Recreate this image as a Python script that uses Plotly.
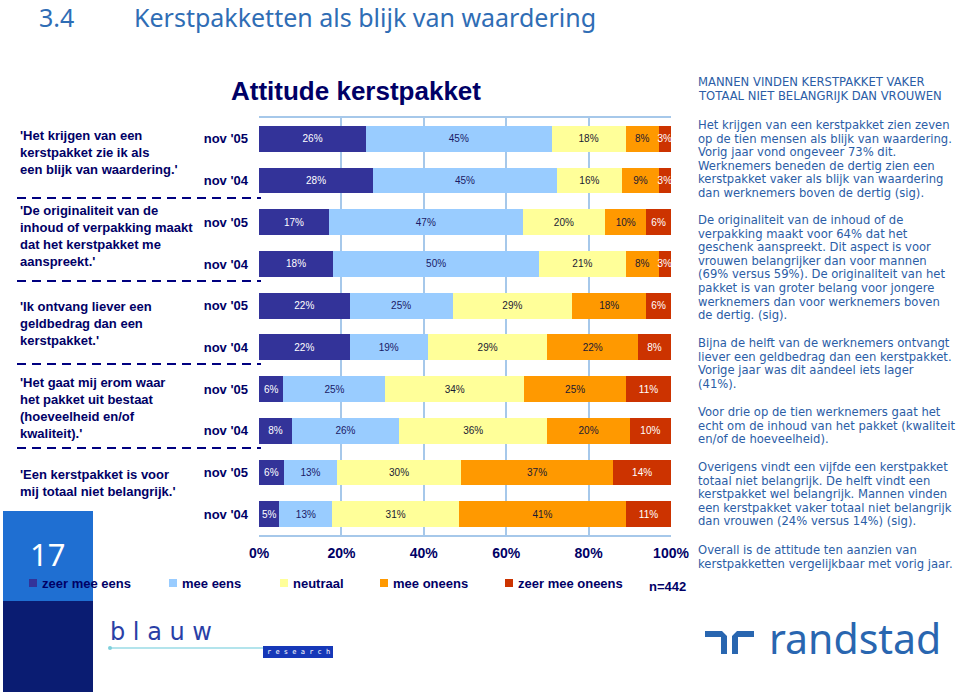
import plotly.graph_objects as go

# ---------------- data ----------------
statements = [
    "'Het krijgen van een<br>kerstpakket zie ik als<br>een blijk van waardering.'",
    "'De originaliteit van de<br>inhoud of verpakking maakt<br>dat het kerstpakket me<br>aanspreekt.'",
    "'Ik ontvang liever een<br>geldbedrag dan een<br>kerstpakket.'",
    "'Het gaat mij erom waar<br>het pakket uit bestaat<br>(hoeveelheid en/of<br>kwaliteit).'",
    "'Een kerstpakket is voor<br>mij totaal niet belangrijk.'",
]
periods = ["nov '05", "nov '04"]
row_labels = [p for _ in statements for p in periods]

series_names = ["zeer mee eens", "mee eens", "neutraal", "mee oneens", "zeer mee oneens"]
zeer_mee_eens   = [26, 28, 17, 18, 22, 22, 6, 8, 6, 5]
mee_eens        = [45, 45, 47, 50, 25, 19, 25, 26, 13, 13]
neutraal        = [18, 16, 20, 21, 29, 29, 34, 36, 30, 31]
mee_oneens      = [8, 9, 10, 8, 18, 22, 25, 20, 37, 41]
zeer_mee_oneens = [3, 3, 6, 3, 6, 8, 11, 10, 14, 11]
series_values = [zeer_mee_eens, mee_eens, neutraal, mee_oneens, zeer_mee_oneens]

x_ticks = [0, 20, 40, 60, 80, 100]
n_label = "n=442"

side_header = ["MANNEN VINDEN KERSTPAKKET VAKER", "TOTAAL NIET BELANGRIJK DAN VROUWEN"]
side_paragraphs = [
    ["Het krijgen van een kerstpakket zien zeven",
     "op de tien mensen als blijk van waardering.",
     "Vorig jaar vond ongeveer 73% dit.",
     "Werknemers beneden de dertig zien een",
     "kerstpakket vaker als blijk van waardering",
     "dan werknemers boven de dertig (sig)."],
    ["De originaliteit van de inhoud of de",
     "verpakking maakt voor 64% dat het",
     "geschenk aanspreekt. Dit aspect is voor",
     "vrouwen belangrijker dan voor mannen",
     "(69% versus 59%). De originaliteit van het",
     "pakket is van groter belang voor jongere",
     "werknemers dan voor werknemers boven",
     "de dertig. (sig)."],
    ["Bijna de helft van de werknemers ontvangt",
     "liever een geldbedrag dan een kerstpakket.",
     "Vorige jaar was dit aandeel iets lager",
     "(41%)."],
    ["Voor drie op de tien werknemers gaat het",
     "echt om de inhoud van het pakket (kwaliteit",
     "en/of de hoeveelheid)."],
    ["Overigens vindt een vijfde een kerstpakket",
     "totaal niet belangrijk. De helft vindt een",
     "kerstpakket wel belangrijk. Mannen vinden",
     "een kerstpakket vaker totaal niet belangrijk",
     "dan vrouwen (24% versus 14%) (sig)."],
    ["Overall is de attitude ten aanzien van",
     "kerstpakketten vergelijkbaar met vorig jaar."],
]

# ---------------- styles ----------------
colors = ["#333399", "#99CCFF", "#FFFF99", "#FF9900", "#CC3300"]
text_colors = ["#FFFFFF", "#1A1A66", "#1A1A33", "#1A1A33", "#FFFFFF"]
NAVY = "#000066"
SIDE = "#2B5DA6"
GRID = "#A6C8EA"
ARIAL = "Liberation Sans"
SIDEFONT = "DejaVu Sans"

W, H = 960, 692
L, R, T, B = 259, 671, 118, 535


def px(x):
    return (x - L) / (R - L)


def py(y):
    return (B - y) / (B - T)


fig = go.Figure()
ys = list(range(len(row_labels)))
for name, vals, col, tcol in zip(series_names, series_values, colors, text_colors):
    fig.add_trace(go.Bar(
        y=ys, x=vals, name=name, orientation="h",
        marker=dict(color=col, line=dict(width=0)),
        text=[f"{v}%" for v in vals], textposition="inside",
        insidetextanchor="middle", textangle=0,
        textfont=dict(family=ARIAL, size=10, color=tcol),
        showlegend=False, hoverinfo="skip",
    ))

fig.update_layout(
    width=W, height=H, barmode="stack", barnorm="percent", bargap=0.38,
    margin=dict(l=L, r=W - R, t=T, b=H - B, autoexpand=False),
    paper_bgcolor="white", plot_bgcolor="white",
    uniformtext=dict(minsize=10, mode="show"),
    xaxis=dict(range=[0, 100], tickvals=x_ticks, ticktext=[f"{t}%" for t in x_ticks],
               showgrid=True, gridcolor=GRID, gridwidth=2, zeroline=False,
               showline=True, linecolor=GRID, linewidth=2, mirror=True,
               ticks="", ticklabelstandoff=4,
               tickfont=dict(family=ARIAL, size=14, color=NAVY, weight="bold")),
    yaxis=dict(range=[len(ys) - 0.5, -0.5], tickvals=ys, ticktext=row_labels,
               showgrid=False, zeroline=False, showline=False,
               ticks="", ticklabelstandoff=10,
               tickfont=dict(family=ARIAL, size=13, color=NAVY, weight="bold")),
)

shapes = []
ann = []

# slide number box
shapes.append(dict(type="rect", xref="paper", yref="paper", x0=px(3), x1=px(93), y0=py(511), y1=py(601),
                   fillcolor="#1F6FD2", line=dict(width=0), layer="below"))
shapes.append(dict(type="rect", xref="paper", yref="paper", x0=px(3), x1=px(93), y0=py(601), y1=py(692),
                   fillcolor="#0A1C72", line=dict(width=0), layer="below"))
ann.append(dict(text="17", x=px(47), y=py(554), xanchor="center", yanchor="middle",
                font=dict(family="Noto Sans", size=31, color="white")))

# titles
ann.append(dict(text="3.4", x=px(37), y=py(17.5), xanchor="left", yanchor="middle",
                font=dict(family="Noto Sans", size=25, color="#2F6DB5")))
ann.append(dict(text="Kerstpakketten als blijk van waardering", x=px(132), y=py(17.5),
                xanchor="left", yanchor="middle",
                font=dict(family="Noto Sans", size=25, color="#2F6DB5")))
ann.append(dict(text="<b>Attitude kerstpakket</b>", x=px(356), y=py(91), xanchor="center",
                yanchor="middle", font=dict(family=ARIAL, size=26, color=NAVY)))

# statement labels
stmt_y = [152, 236, 323, 408, 483]
for s, yv in zip(statements, stmt_y):
    ann.append(dict(text=f"<b>{s}</b>", x=px(18), y=py(yv), xanchor="left", yanchor="middle",
                    align="left", font=dict(family=ARIAL, size=13, color=NAVY)))
for yv in [198, 281, 364, 448]:
    shapes.append(dict(type="line", xref="paper", yref="paper", x0=px(17), x1=px(261),
                       y0=py(yv), y1=py(yv), line=dict(color="#000080", width=2, dash="9px,6px")))

# legend
leg_sq = [29, 169, 280, 380, 505]
for name, col, xs in zip(series_names, colors, leg_sq):
    shapes.append(dict(type="rect", xref="paper", yref="paper", x0=px(xs), x1=px(xs + 8),
                       y0=py(587), y1=py(579), fillcolor=col, line=dict(width=0)))
    ann.append(dict(text=f"<b>{name}</b>", x=px(xs + 11), y=py(583), xanchor="left", yanchor="middle",
                    font=dict(family=ARIAL, size=13, color=NAVY)))
ann.append(dict(text=f"<b>{n_label}</b>", x=px(647), y=py(586), xanchor="left", yanchor="middle",
                font=dict(family=ARIAL, size=13, color=NAVY)))

# side text
for i, line in enumerate(side_header):
    ann.append(dict(text=line, x=px(696), y=py(82 + 14 * i), xanchor="left", yanchor="middle",
                    font=dict(family=SIDEFONT, size=11.6, color=SIDE)))
para_start = [125, 220, 343, 412, 467, 550]
for start, para in zip(para_start, side_paragraphs):
    for i, line in enumerate(para):
        ann.append(dict(text=line, x=px(696), y=py(start + 13.6 * i), xanchor="left", yanchor="middle",
                        font=dict(family=SIDEFONT, size=11.6, color=SIDE)))

# blauw research logo
ann.append(dict(text="b l a u w", x=px(108), y=py(632), xanchor="left", yanchor="middle",
                font=dict(family="DejaVu Sans", size=24, color="#2A3FA6")))
shapes.append(dict(type="line", xref="paper", yref="paper", x0=px(110), x1=px(264),
                   y0=py(648), y1=py(648), line=dict(color="#9ADBE6", width=1.5)))
shapes.append(dict(type="circle", xref="paper", yref="paper", x0=px(108), x1=px(112),
                   y0=py(650), y1=py(646), fillcolor="#7FD0DC", line=dict(width=0)))
shapes.append(dict(type="rect", xref="paper", yref="paper", x0=px(263), x1=px(333),
                   y0=py(658), y1=py(646), fillcolor="#1638B8", line=dict(width=0)))
ann.append(dict(text="r e s e a r c h", x=px(298), y=py(652), xanchor="center", yanchor="middle",
                font=dict(family="DejaVu Sans Mono", size=7, color="white")))

# randstad logo
RB = "#2966B0"
def path_px(pts):
    return "M " + " L ".join(f"{px(a)},{py(b)}" for a, b in pts) + " Z"
shapes.append(dict(type="path", xref="paper", yref="paper", fillcolor=RB, line=dict(width=0),
                   path=path_px([(705, 631), (722, 631), (727, 636), (727, 654), (721, 654),
                                 (721, 637), (705, 637)])))
shapes.append(dict(type="path", xref="paper", yref="paper", fillcolor=RB, line=dict(width=0),
                   path=path_px([(754, 631), (737, 631), (732, 636), (732, 654), (738, 654),
                                 (738, 637), (754, 637)])))
ann.append(dict(text="randstad", x=px(767), y=py(638), xanchor="left", yanchor="middle",
                font=dict(family="Noto Sans", size=41, color=RB)))

for a in ann:
    a.update(xref="paper", yref="paper", showarrow=False)
fig.update_layout(shapes=shapes, annotations=ann)

fig.write_html("out.html")
